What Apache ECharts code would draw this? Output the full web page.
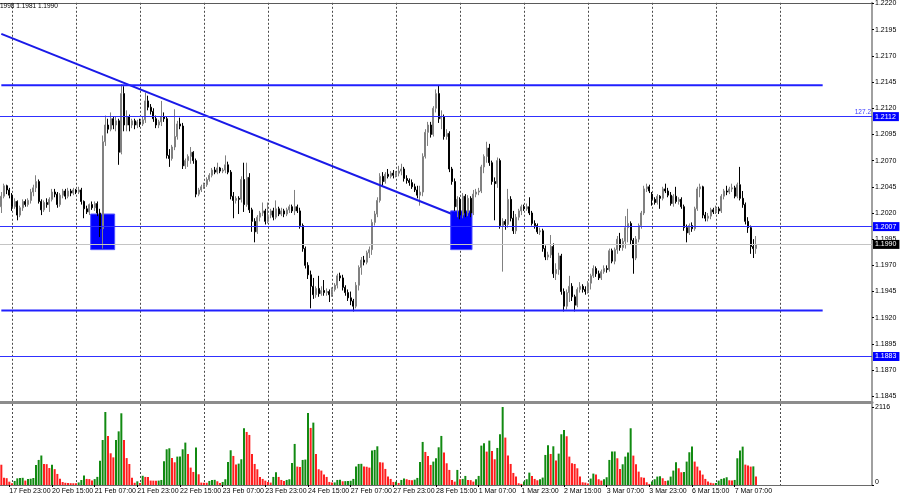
<!DOCTYPE html>
<html><head><meta charset="utf-8">
<script src="https://cdn.jsdelivr.net/npm/echarts@6/dist/echarts.min.js"></script>
<style>html,body{margin:0;padding:0;background:#fff}#c{width:900px;height:500px}</style>
</head><body><div id="c"></div>
<script>
// ---------- DATA (GBPUSD H1) ----------
const opens = [
1.2026,1.2036,1.2046,1.2042,1.2037,1.2026,1.2031,1.2018,1.2025,1.2031,
1.2028,1.2032,1.2040,1.2044,1.2050,1.2031,1.2023,1.2030,1.2028,1.2033,
1.2040,1.2038,1.2028,1.2037,1.2041,1.2036,1.2041,1.2039,1.2042,1.2040,
1.2042,1.2031,1.2024,1.2021,1.2028,1.2025,1.2029,1.2020,1.2005,1.2088,
1.2104,1.2100,1.2110,1.2104,1.2108,1.2078,1.2134,1.2104,1.2112,1.2104,
1.2108,1.2104,1.2107,1.2105,1.2109,1.2127,1.2121,1.2117,1.2110,1.2104,
1.2107,1.2112,1.2110,1.2075,1.2072,1.2083,1.2093,1.2105,1.2103,1.2065,
1.2070,1.2074,1.2078,1.2070,1.2038,1.2042,1.2045,1.2047,1.2052,1.2056,
1.2061,1.2059,1.2063,1.2060,1.2061,1.2066,1.2059,1.2036,1.2032,1.2034,
1.2033,1.2052,1.2028,1.2054,1.2023,1.2012,1.2002,1.2016,1.2020,1.2022,
1.2012,1.2018,1.2022,1.2016,1.2024,1.2019,1.2022,1.2019,1.2023,1.2026,
1.2022,1.2026,1.2022,1.2008,1.1986,1.1970,1.1961,1.1950,1.1942,1.1948,
1.1943,1.1946,1.1944,1.1945,1.1942,1.1947,1.1951,1.1960,1.1958,1.1949,
1.1944,1.1939,1.1936,1.1931,1.1951,1.1968,1.1975,1.1973,1.1982,1.1985,
1.2011,1.2019,1.2032,1.2055,1.2050,1.2057,1.2055,1.2058,1.2056,1.2058,
1.2060,1.2062,1.2053,1.2051,1.2049,1.2045,1.2042,1.2037,1.2040,1.2074,
1.2097,1.2104,1.2095,1.2120,1.2134,1.2110,1.2112,1.2093,1.2096,1.2062,
1.2050,1.2026,1.2033,1.2018,1.2036,1.2020,1.2034,1.2020,1.2038,1.2040,
1.2041,1.2064,1.2074,1.2082,1.2068,1.2050,1.2048,1.2070,1.2008,1.2012,
1.2009,1.2033,1.2015,1.2003,1.2016,1.2022,1.2026,1.2024,1.2026,1.2020,
1.2010,1.2008,1.2002,1.2003,1.1986,1.1978,1.1980,1.1988,1.1962,1.1966,
1.1979,1.1945,1.1931,1.1944,1.1950,1.1940,1.1932,1.1947,1.1950,1.1947,
1.1945,1.1953,1.1960,1.1967,1.1962,1.1958,1.1964,1.1967,1.1966,1.1984,
1.1974,1.1985,1.1995,1.1987,1.1993,1.2006,1.2010,1.1994,1.1977,1.1995,
1.2008,1.2020,1.2043,1.2045,1.2038,1.2033,1.2030,1.2036,1.2034,1.2043,
1.2041,1.2037,1.2029,1.2036,1.2031,1.2033,1.2026,1.2006,1.2001,1.2008,
1.2005,1.2024,1.2043,1.2045,1.2018,1.2015,1.2017,1.2023,1.2021,1.2024,
1.2022,1.2036,1.2041,1.2040,1.2043,1.2044,1.2036,1.2047,1.2034,1.2028,
1.2012,1.2006,1.1988,1.1986];
const closes = [
1.2036,1.2046,1.2042,1.2037,1.2026,1.2031,1.2018,1.2025,1.2031,1.2028,
1.2032,1.2040,1.2044,1.2050,1.2031,1.2023,1.2030,1.2028,1.2033,1.2040,
1.2038,1.2028,1.2037,1.2041,1.2036,1.2041,1.2039,1.2042,1.2040,1.2042,
1.2031,1.2024,1.2021,1.2028,1.2025,1.2029,1.2020,1.2005,1.2088,1.2104,
1.2100,1.2110,1.2104,1.2108,1.2078,1.2134,1.2104,1.2112,1.2104,1.2108,
1.2104,1.2107,1.2105,1.2109,1.2127,1.2121,1.2117,1.2110,1.2104,1.2107,
1.2112,1.2110,1.2075,1.2072,1.2083,1.2093,1.2105,1.2103,1.2065,1.2070,
1.2074,1.2078,1.2070,1.2038,1.2042,1.2045,1.2047,1.2052,1.2056,1.2061,
1.2059,1.2063,1.2060,1.2061,1.2066,1.2059,1.2036,1.2032,1.2034,1.2033,
1.2052,1.2028,1.2054,1.2023,1.2012,1.2002,1.2016,1.2020,1.2022,1.2012,
1.2018,1.2022,1.2016,1.2024,1.2019,1.2022,1.2019,1.2023,1.2026,1.2022,
1.2026,1.2022,1.2008,1.1986,1.1970,1.1961,1.1950,1.1942,1.1948,1.1943,
1.1946,1.1944,1.1945,1.1942,1.1947,1.1951,1.1960,1.1958,1.1949,1.1944,
1.1939,1.1936,1.1931,1.1951,1.1968,1.1975,1.1973,1.1982,1.1985,1.2011,
1.2019,1.2032,1.2055,1.2050,1.2057,1.2055,1.2058,1.2056,1.2058,1.2060,
1.2062,1.2053,1.2051,1.2049,1.2045,1.2042,1.2037,1.2040,1.2074,1.2097,
1.2104,1.2095,1.2120,1.2134,1.2110,1.2112,1.2093,1.2096,1.2062,1.2050,
1.2026,1.2033,1.2018,1.2036,1.2020,1.2034,1.2020,1.2038,1.2040,1.2041,
1.2064,1.2074,1.2082,1.2068,1.2050,1.2048,1.2070,1.2008,1.2012,1.2009,
1.2033,1.2015,1.2003,1.2016,1.2022,1.2026,1.2024,1.2026,1.2020,1.2010,
1.2008,1.2002,1.2003,1.1986,1.1978,1.1980,1.1988,1.1962,1.1966,1.1979,
1.1945,1.1931,1.1944,1.1950,1.1940,1.1932,1.1947,1.1950,1.1947,1.1945,
1.1953,1.1960,1.1967,1.1962,1.1958,1.1964,1.1967,1.1966,1.1984,1.1974,
1.1985,1.1995,1.1987,1.1993,1.2006,1.2010,1.1994,1.1977,1.1995,1.2008,
1.2020,1.2043,1.2045,1.2041,1.2033,1.2030,1.2036,1.2034,1.2043,1.2041,
1.2037,1.2029,1.2036,1.2031,1.2033,1.2026,1.2006,1.2001,1.2008,1.2005,
1.2024,1.2043,1.2045,1.2018,1.2015,1.2017,1.2023,1.2021,1.2024,1.2022,
1.2036,1.2041,1.2040,1.2043,1.2044,1.2036,1.2047,1.2034,1.2028,1.2012,
1.2006,1.1988,1.1986,1.1990];
const lows = [
1.2020,1.2034,1.2038,1.2034,1.2022,1.2024,1.2013,1.2016,1.2022,1.2026,
1.2026,1.2029,1.2036,1.2040,1.2029,1.2018,1.2021,1.2025,1.2021,1.2031,
1.2035,1.2025,1.2026,1.2034,1.2033,1.2034,1.2036,1.2037,1.2038,1.2038,
1.2028,1.2015,1.2019,1.2018,1.2023,1.2022,1.2017,1.1997,1.1986,1.2084,
1.2096,1.2098,1.2100,1.2098,1.2066,1.2076,1.2098,1.2098,1.2098,1.2101,
1.2100,1.2101,1.2102,1.2103,1.2106,1.2118,1.2114,1.2107,1.2101,1.2101,
1.2103,1.2107,1.2072,1.2064,1.2070,1.2080,1.2090,1.2100,1.2062,1.2062,
1.2064,1.2067,1.2067,1.2035,1.2036,1.2040,1.2043,1.2045,1.2050,1.2054,
1.2057,1.2057,1.2058,1.2058,1.2058,1.2057,1.2033,1.2015,1.2029,1.2019,
1.2030,1.2021,1.2026,1.2020,1.2002,1.1992,1.2000,1.2012,1.2017,1.2009,
1.2010,1.2015,1.2013,1.2014,1.2017,1.2017,1.2016,1.2017,1.2020,1.2020,
1.2018,1.2020,1.2005,1.1983,1.1967,1.1957,1.1929,1.1938,1.1939,1.1940,
1.1941,1.1941,1.1941,1.1935,1.1940,1.1945,1.1948,1.1955,1.1946,1.1941,
1.1936,1.1932,1.1926,1.1929,1.1946,1.1961,1.1970,1.1971,1.1977,1.1980,
1.2008,1.2016,1.2030,1.2046,1.2048,1.2053,1.2053,1.2053,1.2054,1.2055,
1.2056,1.2050,1.2048,1.2046,1.2043,1.2040,1.2034,1.2027,1.2036,1.2072,
1.2084,1.2092,1.2093,1.2116,1.2106,1.2100,1.2090,1.2090,1.2059,1.2047,
1.2022,1.2016,1.2014,1.2015,1.2016,1.2017,1.2016,1.2018,1.2035,1.2037,
1.2039,1.2058,1.2068,1.2065,1.2047,1.2013,1.2044,1.2005,1.1964,1.2004,
1.2006,1.2012,1.2000,1.2000,1.2013,1.2018,1.2022,1.2022,1.2018,1.2008,
1.2005,1.2000,1.1999,1.1983,1.1975,1.1975,1.1977,1.1958,1.1956,1.1961,
1.1942,1.1926,1.1928,1.1935,1.1936,1.1926,1.1930,1.1944,1.1944,1.1942,
1.1943,1.1947,1.1958,1.1959,1.1956,1.1956,1.1962,1.1963,1.1964,1.1972,
1.1971,1.1981,1.1984,1.1984,1.1986,1.1992,1.1990,1.1962,1.1975,1.1992,
1.2005,1.2018,1.2040,1.2039,1.2027,1.2028,1.2028,1.2024,1.2032,1.2039,
1.2035,1.2027,1.2026,1.2029,1.2028,1.2024,1.2003,1.1992,1.1999,1.2002,
1.2003,1.2022,1.2035,1.2015,1.2012,1.2012,1.2014,1.2019,1.2019,1.2019,
1.2020,1.2033,1.2037,1.2038,1.2040,1.2034,1.2034,1.2032,1.2025,1.2009,
1.2001,1.1981,1.1977,1.1981];
const highs = [
1.2040,1.2048,1.2047,1.2044,1.2039,1.2034,1.2032,1.2027,1.2033,1.2033,
1.2034,1.2043,1.2047,1.2056,1.2052,1.2033,1.2032,1.2034,1.2035,1.2043,
1.2043,1.2040,1.2039,1.2043,1.2043,1.2044,1.2043,1.2044,1.2043,1.2045,
1.2044,1.2032,1.2027,1.2029,1.2031,1.2031,1.2031,1.2024,1.2094,1.2113,
1.2110,1.2116,1.2112,1.2112,1.2110,1.2143,1.2141,1.2118,1.2114,1.2110,
1.2110,1.2109,1.2110,1.2112,1.2135,1.2132,1.2124,1.2120,1.2113,1.2109,
1.2127,1.2116,1.2112,1.2081,1.2085,1.2119,1.2108,1.2111,1.2106,1.2072,
1.2076,1.2083,1.2079,1.2072,1.2044,1.2047,1.2049,1.2054,1.2058,1.2063,
1.2064,1.2068,1.2064,1.2063,1.2075,1.2069,1.2061,1.2040,1.2036,1.2036,
1.2055,1.2068,1.2068,1.2058,1.2025,1.2015,1.2018,1.2022,1.2030,1.2024,
1.2030,1.2024,1.2025,1.2032,1.2026,1.2025,1.2024,1.2025,1.2028,1.2028,
1.2042,1.2028,1.2025,1.2010,1.1988,1.1973,1.1965,1.1958,1.1950,1.1960,
1.1950,1.1956,1.1948,1.1947,1.1949,1.1953,1.1962,1.1963,1.1961,1.1951,
1.1947,1.1945,1.1938,1.1954,1.1970,1.1978,1.1979,1.1984,1.1988,1.2014,
1.2022,1.2035,1.2058,1.2059,1.2059,1.2062,1.2060,1.2061,1.2060,1.2065,
1.2067,1.2064,1.2056,1.2053,1.2052,1.2048,1.2046,1.2046,1.2077,1.2100,
1.2107,1.2107,1.2122,1.2138,1.2142,1.2118,1.2114,1.2100,1.2098,1.2064,
1.2053,1.2036,1.2035,1.2039,1.2038,1.2037,1.2036,1.2042,1.2043,1.2044,
1.2066,1.2076,1.2088,1.2086,1.2070,1.2054,1.2073,1.2072,1.2015,1.2014,
1.2043,1.2036,1.2022,1.2019,1.2024,1.2028,1.2028,1.2029,1.2035,1.2022,
1.2013,1.2010,1.2006,1.2005,1.1989,1.1983,1.1999,1.1991,1.1972,1.1982,
1.1981,1.1948,1.1947,1.1960,1.1953,1.1942,1.1949,1.1954,1.1952,1.1950,
1.1955,1.1962,1.1970,1.1969,1.1965,1.1966,1.1970,1.1970,1.1986,1.1986,
1.1987,1.1998,1.2001,1.1996,1.2017,1.2024,1.2012,1.1996,1.1998,1.2010,
1.2022,1.2046,1.2048,1.2047,1.2040,1.2035,1.2038,1.2037,1.2045,1.2048,
1.2044,1.2040,1.2038,1.2045,1.2035,1.2035,1.2028,1.2009,1.2010,1.2011,
1.2026,1.2045,1.2048,1.2046,1.2021,1.2020,1.2025,1.2025,1.2027,1.2026,
1.2038,1.2043,1.2046,1.2045,1.2048,1.2046,1.2049,1.2064,1.2041,1.2030,
1.2016,1.2008,1.1995,1.1998];
const volumes = [
550,200,185,90,50,110,180,190,195,120,
160,170,190,540,680,800,570,565,460,550,
430,300,170,80,60,55,50,48,45,70,
136,260,165,160,125,160,220,660,1220,1980,
1330,860,750,1220,1455,1945,1220,730,570,200,
60,100,55,250,220,215,120,118,115,120,
137,644,969,996,734,616,770,775,969,1150,
842,472,354,1014,291,65,62,60,110,137,
140,101,56,83,156,626,942,788,553,580,
698,1539,1439,1358,842,571,427,219,165,119,
83,65,219,345,219,137,110,137,156,598,
1114,499,490,680,690,1954,1548,1692,842,427,
391,283,219,83,65,70,137,140,101,105,
110,115,165,499,571,575,499,495,472,933,
951,1050,616,610,436,228,165,83,88,56,
137,174,156,137,130,145,192,626,1168,897,
788,544,635,725,1023,1331,879,589,409,137,
92,409,156,165,246,137,132,92,156,246,
1068,1132,906,1204,924,698,1005,1376,2116,1286,
797,571,327,228,47,30,92,156,336,246,
165,128,156,201,815,1077,842,1050,662,851,
1376,1493,1322,770,589,571,454,228,74,65,
38,174,309,282,156,119,156,210,680,906,
910,725,436,562,770,879,1539,797,562,363,
210,200,74,29,92,156,228,237,183,110,
119,228,391,616,454,345,354,635,888,1041,
635,499,391,282,165,92,60,47,56,119,
165,183,210,128,119,137,725,933,1041,553,
526,499,505,228];
const timeLabels = ["17 Feb 23:00","20 Feb 15:00","21 Feb 07:00","21 Feb 23:00","22 Feb 15:00","23 Feb 07:00","23 Feb 23:00","24 Feb 15:00","27 Feb 07:00","27 Feb 23:00","28 Feb 15:00","1 Mar 07:00","1 Mar 23:00","2 Mar 15:00","3 Mar 07:00","3 Mar 23:00","6 Mar 15:00","7 Mar 07:00"];
const labelBars = [3,19,35,51,67,83,99,115,131,147,163,179,195,211,227,243,259,275];
const gridBars = [4,28,52,76,100,124,148,172,196,220,244,268,292];
const priceTicks = [1.1845,1.1870,1.1895,1.1920,1.1945,1.1970,1.1995,1.2020,1.2045,1.2070,1.2095,1.2120,1.2145,1.2170,1.2195,1.2220];
const volumeTicks = [0, 2116];
const fullLevels = [1.2112, 1.2007, 1.1883];
const fibLabel = "127.2";
const bidPrice = 1.1990;
const segmentLevels = [1.2142, 1.1927];
const segmentEndBar = 308;
const trendLine = [[0, 1.2191], [169, 1.2019]];
const zones = [[34, 42, 1.1985, 1.2019], [169, 176, 1.1985, 1.2022]];
const headerText = "1998 1.1981 1.1990";
const totalSlots = 327; // bars + empty right shift

// ---------- CHART ----------
const FONT = 'Liberation Sans';
const cats = Array.from({length: totalSlots}, (_, i) => 'b' + i);
const labelAt = {};
labelBars.forEach((b, k) => labelAt[b] = timeLabels[k]);
const gridSet = new Set(gridBars);
const labelSet = new Set(labelBars);
const candleData = opens.map((o, i) => [o, closes[i], lows[i], highs[i]]);
const volData = volumes.map((v, i) => ({
  value: v,
  itemStyle: {color: (i > 0 && v > volumes[i - 1]) ? '#118a11' : '#ff1e1e'}
}));
const splitLine = {show: true, interval: (i) => gridSet.has(i), alignWithLabel: true,
  lineStyle: {color: '#4a4a4a', type: [2, 2], width: 1}};
const BLUE_THIN = '#3030ff';
const BLUE_THICK = '#2020ff';
const boxLabel = (txt, bg) => ({show: true, position: 'end', distance: 1, formatter: txt,
  backgroundColor: bg, color: '#fff', fontSize: 7, fontFamily: FONT, padding: [1, 3, 1, 2]});

const markData = [];
markData.push({yAxis: bidPrice, lineStyle: {color: '#c4c4c4', width: 1, type: 'solid'},
  label: boxLabel(bidPrice.toFixed(4), '#000000')});
fullLevels.forEach((p) => {
  markData.push({yAxis: p, lineStyle: {color: BLUE_THIN, width: 1, type: 'solid'},
    label: boxLabel(p.toFixed(4), '#0000ff')});
});
markData.push({yAxis: fullLevels[0], lineStyle: {color: BLUE_THIN, width: 1, type: 'solid'},
  label: {show: true, position: 'insideEndTop', distance: 1, formatter: fibLabel, color: '#3c3cff',
    fontSize: 6.5, fontFamily: FONT}});

const segSeries = segmentLevels.map(p => ({
  type: 'line', xAxisIndex: 0, yAxisIndex: 0, data: [[0, p], [segmentEndBar, p]],
  symbol: 'none', z: 4, silent: true, lineStyle: {color: BLUE_THICK, width: 2}
}));

const option = {
  animation: false,
  backgroundColor: '#ffffff',
  textStyle: {fontFamily: FONT},
  grid: [
    {left: 0, right: 28, top: 2, height: 400},
    {left: 0, right: 28, top: 404, height: 81}
  ],
  xAxis: [
    {gridIndex: 0, type: 'category', data: cats, position: 'top',
      axisLine: {show: true, lineStyle: {color: '#5a5a5a', width: 1}},
      axisTick: {show: false}, axisLabel: {show: false}, splitLine: splitLine},
    {gridIndex: 1, type: 'category', data: cats, position: 'bottom',
      axisLine: {show: true, lineStyle: {color: '#6a6a6a', width: 1}},
      axisTick: {show: true, interval: (i) => labelSet.has(i), alignWithLabel: true, length: 2,
        lineStyle: {color: '#000'}},
      axisLabel: {show: true, interval: (i) => labelSet.has(i), formatter: (v, i) => labelAt[i] || '',
        align: 'left', margin: 3, fontSize: 7, fontFamily: FONT, color: '#000'},
      splitLine: splitLine},
    {gridIndex: 0, type: 'category', data: cats, position: 'bottom',
      axisLine: {show: true, lineStyle: {color: '#8c8c8c', width: 3}},
      axisTick: {show: false}, axisLabel: {show: false}, splitLine: {show: false}}
  ],
  yAxis: [
    {gridIndex: 0, type: 'value', position: 'right', min: 1.183955, max: 1.222067,
      axisLine: {show: true, lineStyle: {color: '#a0a0a0', width: 2}},
      axisTick: {show: true, customValues: priceTicks, length: 2, lineStyle: {color: '#000'}},
      axisLabel: {show: true, customValues: priceTicks, formatter: v => v.toFixed(4), fontSize: 7,
        fontFamily: FONT, color: '#000', margin: 3},
      splitLine: {show: false}},
    {gridIndex: 1, type: 'value', position: 'right', min: 0, max: 2197,
      axisLine: {show: true, lineStyle: {color: '#a0a0a0', width: 2}},
      axisTick: {show: true, customValues: volumeTicks, length: 2, lineStyle: {color: '#000'}},
      axisLabel: {show: true, customValues: volumeTicks, fontSize: 7, fontFamily: FONT, color: '#000', margin: 3,
        formatter: v => v === 0 ? '{z|0}' : String(v),
        rich: {z: {padding: [0, 0, 6, 0], fontSize: 7, fontFamily: FONT, color: '#000'}}},
      splitLine: {show: false}}
  ],
  graphic: [
    {type: 'text', left: 0, top: 3, z: 100,
      style: {text: headerText, fontSize: 6.5, fontFamily: FONT, fill: '#000'}}
  ],
  series: [
    {type: 'custom', xAxisIndex: 0, yAxisIndex: 0, z: 1, silent: true, data: zones,
      encode: {x: [0, 1], y: [2, 3]},
      renderItem: (params, api) => {
        const w = api.size([1, 0])[0];
        const a = api.coord([api.value(0), api.value(3)]);
        const b = api.coord([api.value(1), api.value(2)]);
        return {type: 'rect', shape: {x: a[0] - w / 2, y: a[1], width: b[0] - a[0] + w, height: b[1] - a[1]},
          style: {fill: '#0000ff', stroke: '#5050ff', lineWidth: 1}};
      }},
    {type: 'candlestick', xAxisIndex: 0, yAxisIndex: 0, z: 2, data: candleData, barWidth: 1.4,
      itemStyle: {color: '#a8a8a8', color0: '#000000', borderColor: '#808080', borderColor0: '#000000', borderWidth: 1}},
    {type: 'line', xAxisIndex: 0, yAxisIndex: 0, data: trendLine, symbol: 'none', z: 4, silent: true,
      lineStyle: {color: '#1a1ae8', width: 2},
      markLine: {silent: true, symbol: ['none', 'none'], animation: false, precision: 4, data: markData}},
    ...segSeries,
    {type: 'bar', xAxisIndex: 1, yAxisIndex: 1, data: volData, barWidth: 2, silent: true}
  ]
};
const chart = echarts.init(document.getElementById('c'), null, {renderer: 'canvas'});
chart.setOption(option);
</script>
</body></html>
